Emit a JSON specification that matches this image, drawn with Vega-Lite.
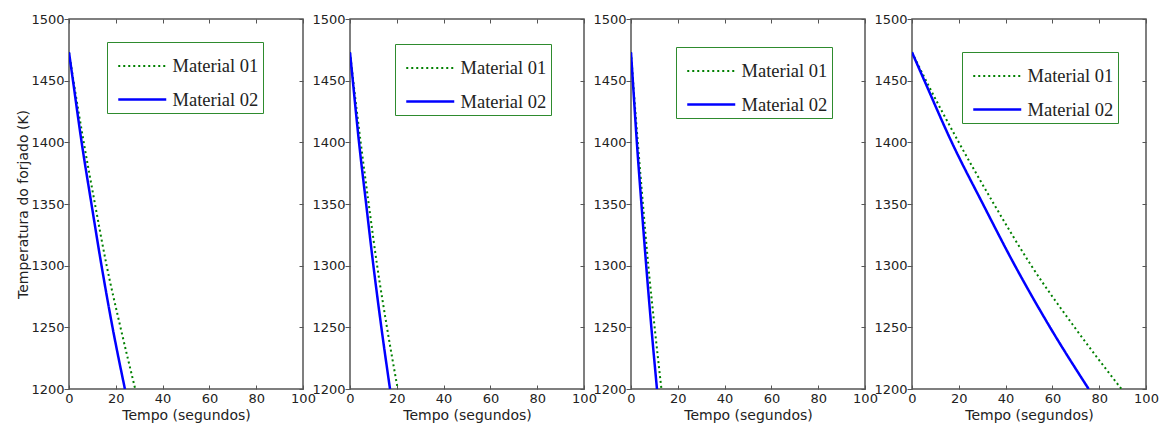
{
  "$schema": "https://vega.github.io/schema/vega-lite/v6.json",
  "background": "white",
  "padding": {"left": 16, "top": 12, "right": 5, "bottom": 0},
  "bounds": "flush",
  "spacing": 47,
  "datasets": {
    "curves": [
      {"p": 1, "m": "Material 01", "t": 0, "T": 1473},
      {"p": 1, "m": "Material 01", "t": 1.9, "T": 1450},
      {"p": 1, "m": "Material 01", "t": 6.3, "T": 1400},
      {"p": 1, "m": "Material 01", "t": 11.1, "T": 1350},
      {"p": 1, "m": "Material 01", "t": 16.1, "T": 1300},
      {"p": 1, "m": "Material 01", "t": 22.0, "T": 1250},
      {"p": 1, "m": "Material 01", "t": 28.3, "T": 1200},
      {"p": 1, "m": "Material 02", "t": 0, "T": 1473},
      {"p": 1, "m": "Material 02", "t": 1.7, "T": 1450},
      {"p": 1, "m": "Material 02", "t": 5.4, "T": 1400},
      {"p": 1, "m": "Material 02", "t": 9.6, "T": 1350},
      {"p": 1, "m": "Material 02", "t": 13.9, "T": 1300},
      {"p": 1, "m": "Material 02", "t": 18.6, "T": 1250},
      {"p": 1, "m": "Material 02", "t": 23.9, "T": 1200},
      {"p": 2, "m": "Material 01", "t": 0, "T": 1473},
      {"p": 2, "m": "Material 01", "t": 1.37, "T": 1450},
      {"p": 2, "m": "Material 01", "t": 4.56, "T": 1400},
      {"p": 2, "m": "Material 01", "t": 8.0, "T": 1350},
      {"p": 2, "m": "Material 01", "t": 11.6, "T": 1300},
      {"p": 2, "m": "Material 01", "t": 15.8, "T": 1250},
      {"p": 2, "m": "Material 01", "t": 20.4, "T": 1200},
      {"p": 2, "m": "Material 02", "t": 0, "T": 1473},
      {"p": 2, "m": "Material 02", "t": 1.2, "T": 1450},
      {"p": 2, "m": "Material 02", "t": 3.85, "T": 1400},
      {"p": 2, "m": "Material 02", "t": 6.9, "T": 1350},
      {"p": 2, "m": "Material 02", "t": 10.0, "T": 1300},
      {"p": 2, "m": "Material 02", "t": 13.4, "T": 1250},
      {"p": 2, "m": "Material 02", "t": 17.1, "T": 1200},
      {"p": 3, "m": "Material 01", "t": 0, "T": 1473},
      {"p": 3, "m": "Material 01", "t": 0.87, "T": 1450},
      {"p": 3, "m": "Material 01", "t": 2.9, "T": 1400},
      {"p": 3, "m": "Material 01", "t": 5.1, "T": 1350},
      {"p": 3, "m": "Material 01", "t": 7.4, "T": 1300},
      {"p": 3, "m": "Material 01", "t": 10.1, "T": 1250},
      {"p": 3, "m": "Material 01", "t": 13.0, "T": 1200},
      {"p": 3, "m": "Material 02", "t": 0, "T": 1473},
      {"p": 3, "m": "Material 02", "t": 0.78, "T": 1450},
      {"p": 3, "m": "Material 02", "t": 2.5, "T": 1400},
      {"p": 3, "m": "Material 02", "t": 4.45, "T": 1350},
      {"p": 3, "m": "Material 02", "t": 6.5, "T": 1300},
      {"p": 3, "m": "Material 02", "t": 8.7, "T": 1250},
      {"p": 3, "m": "Material 02", "t": 11.1, "T": 1200},
      {"p": 4, "m": "Material 01", "t": 0, "T": 1473},
      {"p": 4, "m": "Material 01", "t": 6, "T": 1450},
      {"p": 4, "m": "Material 01", "t": 20, "T": 1400},
      {"p": 4, "m": "Material 01", "t": 35, "T": 1350},
      {"p": 4, "m": "Material 01", "t": 51, "T": 1300},
      {"p": 4, "m": "Material 01", "t": 69.5, "T": 1250},
      {"p": 4, "m": "Material 01", "t": 89.5, "T": 1200},
      {"p": 4, "m": "Material 02", "t": 0, "T": 1473},
      {"p": 4, "m": "Material 02", "t": 5.3, "T": 1450},
      {"p": 4, "m": "Material 02", "t": 17, "T": 1400},
      {"p": 4, "m": "Material 02", "t": 30.3, "T": 1350},
      {"p": 4, "m": "Material 02", "t": 44, "T": 1300},
      {"p": 4, "m": "Material 02", "t": 59, "T": 1250},
      {"p": 4, "m": "Material 02", "t": 75.5, "T": 1200}
    ]
  },
  "hconcat": [
    {
      "width": 234, "height": 370,
      "data": {"name": "curves"},
      "transform": [{"filter": "datum.p == 1"}],
      "layer": [
        {
          "mark": {"type": "line", "interpolate": "monotone", "clip": true},
          "encoding": {
            "x": {"field": "t", "type": "quantitative", "scale": {"domain": [0, 100], "nice": false}, "axis": {"values": [0, 20, 40, 60, 80, 100], "tickSize": -4, "labelPadding": 7, "titlePadding": 3, "title": "Tempo (segundos)"}},
            "y": {"field": "T", "type": "quantitative", "scale": {"domain": [1200, 1500], "nice": false, "zero": false}, "axis": {"values": [1200, 1250, 1300, 1350, 1400, 1450, 1500], "tickSize": 5, "labelPadding": 0, "titlePadding": 0, "title": "Temperatura do forjado (K)"}},
            "color": {"field": "m", "type": "nominal", "scale": {"domain": ["Material 01", "Material 02"], "range": ["#008000", "#0000ff"]}, "legend": {"orient": "none", "legendX": 38, "legendY": 23, "title": " "}},
            "strokeDash": {"field": "m", "type": "nominal", "scale": {"domain": ["Material 01", "Material 02"], "range": [[2, 3], [1, 0]]}, "legend": {"orient": "none", "legendX": 38, "legendY": 23, "title": " "}},
            "strokeWidth": {"field": "m", "type": "nominal", "scale": {"domain": ["Material 01", "Material 02"], "range": [2, 2.5]}, "legend": null}
          }
        },
        {
          "mark": {"type": "line", "opacity": 0},
          "encoding": {
            "x": {"field": "t", "type": "quantitative", "scale": {"domain": [0, 100], "nice": false}, "axis": {"orient": "top", "values": [0, 20, 40, 60, 80, 100], "tickSize": -4, "labels": false, "title": null}},
            "y": {"field": "T", "type": "quantitative", "scale": {"domain": [1200, 1500], "nice": false, "zero": false}, "axis": {"orient": "right", "values": [1200, 1250, 1300, 1350, 1400, 1450, 1500], "tickSize": -4, "labels": false, "title": null}}
          }
        }
      ],
      "resolve": {"axis": {"x": "independent", "y": "independent"}}
    },
    {
      "width": 234, "height": 370,
      "data": {"name": "curves"},
      "transform": [{"filter": "datum.p == 2"}],
      "layer": [
        {
          "mark": {"type": "line", "interpolate": "monotone", "clip": true},
          "encoding": {
            "x": {"field": "t", "type": "quantitative", "scale": {"domain": [0, 100], "nice": false}, "axis": {"values": [0, 20, 40, 60, 80, 100], "tickSize": -4, "labelPadding": 7, "titlePadding": 3, "title": "Tempo (segundos)"}},
            "y": {"field": "T", "type": "quantitative", "scale": {"domain": [1200, 1500], "nice": false, "zero": false}, "axis": {"values": [1200, 1250, 1300, 1350, 1400, 1450, 1500], "tickSize": 5, "labelPadding": 0, "title": null}},
            "color": {"field": "m", "type": "nominal", "scale": {"domain": ["Material 01", "Material 02"], "range": ["#008000", "#0000ff"]}, "legend": {"orient": "none", "legendX": 45, "legendY": 25, "title": " "}},
            "strokeDash": {"field": "m", "type": "nominal", "scale": {"domain": ["Material 01", "Material 02"], "range": [[2, 3], [1, 0]]}, "legend": {"orient": "none", "legendX": 45, "legendY": 25, "title": " "}},
            "strokeWidth": {"field": "m", "type": "nominal", "scale": {"domain": ["Material 01", "Material 02"], "range": [2, 2.5]}, "legend": null}
          }
        },
        {
          "mark": {"type": "line", "opacity": 0},
          "encoding": {
            "x": {"field": "t", "type": "quantitative", "scale": {"domain": [0, 100], "nice": false}, "axis": {"orient": "top", "values": [0, 20, 40, 60, 80, 100], "tickSize": -4, "labels": false, "title": null}},
            "y": {"field": "T", "type": "quantitative", "scale": {"domain": [1200, 1500], "nice": false, "zero": false}, "axis": {"orient": "right", "values": [1200, 1250, 1300, 1350, 1400, 1450, 1500], "tickSize": -4, "labels": false, "title": null}}
          }
        }
      ],
      "resolve": {"axis": {"x": "independent", "y": "independent"}}
    },
    {
      "width": 234, "height": 370,
      "data": {"name": "curves"},
      "transform": [{"filter": "datum.p == 3"}],
      "layer": [
        {
          "mark": {"type": "line", "interpolate": "monotone", "clip": true},
          "encoding": {
            "x": {"field": "t", "type": "quantitative", "scale": {"domain": [0, 100], "nice": false}, "axis": {"values": [0, 20, 40, 60, 80, 100], "tickSize": -4, "labelPadding": 7, "titlePadding": 3, "title": "Tempo (segundos)"}},
            "y": {"field": "T", "type": "quantitative", "scale": {"domain": [1200, 1500], "nice": false, "zero": false}, "axis": {"values": [1200, 1250, 1300, 1350, 1400, 1450, 1500], "tickSize": 5, "labelPadding": 0, "title": null}},
            "color": {"field": "m", "type": "nominal", "scale": {"domain": ["Material 01", "Material 02"], "range": ["#008000", "#0000ff"]}, "legend": {"orient": "none", "legendX": 45, "legendY": 28, "title": " "}},
            "strokeDash": {"field": "m", "type": "nominal", "scale": {"domain": ["Material 01", "Material 02"], "range": [[2, 3], [1, 0]]}, "legend": {"orient": "none", "legendX": 45, "legendY": 28, "title": " "}},
            "strokeWidth": {"field": "m", "type": "nominal", "scale": {"domain": ["Material 01", "Material 02"], "range": [2, 2.5]}, "legend": null}
          }
        },
        {
          "mark": {"type": "line", "opacity": 0},
          "encoding": {
            "x": {"field": "t", "type": "quantitative", "scale": {"domain": [0, 100], "nice": false}, "axis": {"orient": "top", "values": [0, 20, 40, 60, 80, 100], "tickSize": -4, "labels": false, "title": null}},
            "y": {"field": "T", "type": "quantitative", "scale": {"domain": [1200, 1500], "nice": false, "zero": false}, "axis": {"orient": "right", "values": [1200, 1250, 1300, 1350, 1400, 1450, 1500], "tickSize": -4, "labels": false, "title": null}}
          }
        }
      ],
      "resolve": {"axis": {"x": "independent", "y": "independent"}}
    },
    {
      "width": 234, "height": 370,
      "data": {"name": "curves"},
      "transform": [{"filter": "datum.p == 4"}],
      "layer": [
        {
          "mark": {"type": "line", "interpolate": "monotone", "clip": true},
          "encoding": {
            "x": {"field": "t", "type": "quantitative", "scale": {"domain": [0, 100], "nice": false}, "axis": {"values": [0, 20, 40, 60, 80, 100], "tickSize": -4, "labelPadding": 7, "titlePadding": 3, "title": "Tempo (segundos)"}},
            "y": {"field": "T", "type": "quantitative", "scale": {"domain": [1200, 1500], "nice": false, "zero": false}, "axis": {"values": [1200, 1250, 1300, 1350, 1400, 1450, 1500], "tickSize": 5, "labelPadding": 0, "title": null}},
            "color": {"field": "m", "type": "nominal", "scale": {"domain": ["Material 01", "Material 02"], "range": ["#008000", "#0000ff"]}, "legend": {"orient": "none", "legendX": 50, "legendY": 33, "title": " "}},
            "strokeDash": {"field": "m", "type": "nominal", "scale": {"domain": ["Material 01", "Material 02"], "range": [[2, 3], [1, 0]]}, "legend": {"orient": "none", "legendX": 50, "legendY": 33, "title": " "}},
            "strokeWidth": {"field": "m", "type": "nominal", "scale": {"domain": ["Material 01", "Material 02"], "range": [2, 2.5]}, "legend": null}
          }
        },
        {
          "mark": {"type": "line", "opacity": 0},
          "encoding": {
            "x": {"field": "t", "type": "quantitative", "scale": {"domain": [0, 100], "nice": false}, "axis": {"orient": "top", "values": [0, 20, 40, 60, 80, 100], "tickSize": -4, "labels": false, "title": null}},
            "y": {"field": "T", "type": "quantitative", "scale": {"domain": [1200, 1500], "nice": false, "zero": false}, "axis": {"orient": "right", "values": [1200, 1250, 1300, 1350, 1400, 1450, 1500], "tickSize": -4, "labels": false, "title": null}}
          }
        }
      ],
      "resolve": {"axis": {"x": "independent", "y": "independent"}}
    }
  ],
  "resolve": {
    "scale": {"x": "independent", "y": "independent", "color": "independent", "strokeDash": "independent", "strokeWidth": "independent"},
    "legend": {"color": "independent", "strokeDash": "independent"}
  },
  "config": {
    "view": {"stroke": "#555555", "strokeWidth": 1.5},
    "axis": {
      "domain": false, "grid": false, "tickColor": "#555555", "tickWidth": 1,
      "format": "d",
      "labelFont": "DejaVu Sans", "labelFontSize": 13, "labelColor": "#222222",
      "labelFlush": false, "labelOverlap": false,
      "titleFont": "DejaVu Sans", "titleFontSize": 14, "titleFontWeight": "normal", "titleColor": "#222222"
    },
    "legend": {
      "symbolType": "M-0.333,0H7.667",
      "symbolSize": 144,
      "symbolStrokeWidth": 2,
      "labelFont": "Liberation Serif",
      "labelFontSize": 18.5,
      "labelColor": "#222222",
      "labelOffset": 43,
      "labelLimit": 300,
      "rowPadding": 14.5,
      "padding": 4,
      "titleFontSize": 8,
      "titlePadding": 2.75,
      "strokeColor": "#2e8b2e",
      "fillColor": "white",
      "cornerRadius": 0
    }
  }
}
